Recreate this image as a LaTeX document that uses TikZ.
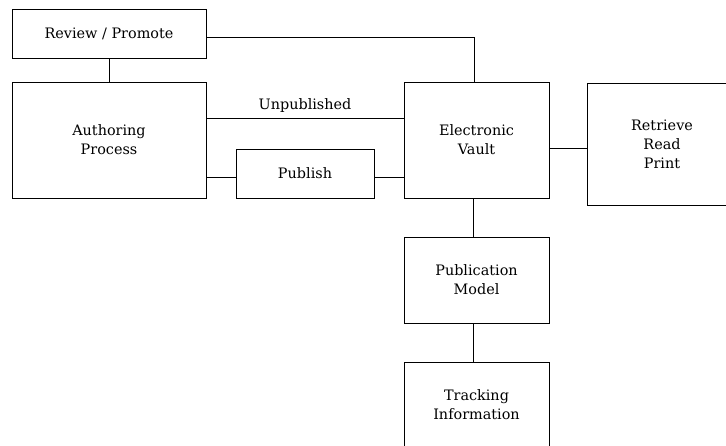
\documentclass[tikz,border=0pt]{standalone}
\usepackage{fontspec}
\setmainfont{DejaVu Serif}
\usetikzlibrary{positioning}
\begin{document}
\begin{tikzpicture}[x=1pt, y=-1pt, line width=0.9pt,
    box/.style={draw, shape=rectangle, align=center, inner sep=0pt, font=\fontsize{14.4}{19}\selectfont},
    lbl/.style={font=\fontsize{14.4}{19}\selectfont}]
            \def\widebox{194pt}
            \def\midbox{145pt}
            \useasboundingbox (0,0) rectangle (726,445);
            \clip (0,0) rectangle (726,445);
            \node[box, minimum width=\widebox, minimum height=49pt] (review) at (109,33.5) {Review / Promote};
            \node[box, minimum width=\widebox, minimum height=116pt] (authoring) at (109,140) {Authoring\\Process};
            \node[box, minimum width=138pt, minimum height=49pt] (publish) at (305,173.5) {Publish};
            \node[box, minimum width=\midbox, minimum height=116pt] (vault) at (476.5,140) {Electronic\\Vault};
            \node[box, minimum width=150pt, minimum height=122pt] (retrieve) at (662,144) {Retrieve\\Read\\Print};
            \node[box, minimum width=\midbox, minimum height=86pt] (model) at (476.5,280) {Publication\\Model};
            \node[box, minimum width=\midbox, minimum height=86pt] (tracking) at (476.5,405) {Tracking\\Information};
            \draw (review.south) -- (authoring.north);
            \draw ([yshift=-3.5pt]review.east) -| ([xshift=-2.5pt]vault.north);
            \draw ([yshift=22pt]authoring.east) -- node[lbl, above=2pt] (unpub) {Unpublished} ([yshift=22pt]vault.west);
            \draw ([yshift=-3.5pt]publish.west) -- ([yshift=-3.5pt]publish.west -| authoring.east);
            \draw ([yshift=-3.5pt]publish.east) -- ([yshift=-3.5pt]publish.east -| vault.west);
            \draw ([yshift=-4pt]retrieve.west) -- ([yshift=-4pt]retrieve.west -| vault.east);
            \draw ([xshift=-3pt]vault.south) -- ([xshift=-3pt]model.north);
            \draw ([xshift=-3pt]model.south) -- ([xshift=-3pt]tracking.north);
        \end{tikzpicture}
\end{document}
